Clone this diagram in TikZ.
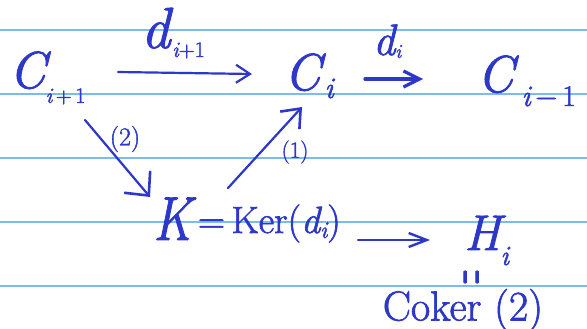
\documentclass[tikz,border=0pt]{standalone}
\usepackage{fontspec}
\usepackage{graphicx}
\usetikzlibrary{arrows.meta}
\newfontfamily\hand[FakeBold=1.6]{Latin Modern Roman}
\definecolor{ink}{RGB}{45,55,200}
\definecolor{ruleblue}{RGB}{125,185,245}
\newcommand\sz[1]{\fontsize{#1}{#1}\selectfont}
\newcommand\subtxt[3]{\raisebox{#1}{\sz{#2}#3}}
\begin{document}
\begin{tikzpicture}[x=1pt,y=-1pt,
  lbl/.style={text=ink, inner sep=0pt, anchor=base west, font=\hand\itshape},
  tag/.style={text=ink, inner sep=0pt, font=\hand},
  arr/.style={draw=ink, line width=2.2pt, line cap=round},
  ruling/.style={draw=ruleblue, line width=1.8pt}]
\useasboundingbox (0,0) rectangle (587,329);
\fill[white] (0,0) rectangle (587,329);
\foreach \yy in {30,94,158,222,286} \draw[ruling] (0,\yy) -- (587,\yy);

\node[lbl] (cA) at (9,88) {\sz{52}C\subtxt{-15pt}{22}{i\,\upshape+\,1}};
\node[lbl] (cB) at (284,90) {\sz{52}C\hspace{4pt}\subtxt{-8pt}{30}{i}};
\node[lbl] (cC) at (477,92) {\sz{52}C\hspace{8pt}\subtxt{-14pt}{30}{i\,\upshape−\,1}};
\node[lbl] (dA) at (141,48) {\sz{58}d\hspace{2pt}\subtxt{-9pt}{22}{i\upshape+1}};
\node[lbl] (dB) at (373,55) {\sz{44}d\subtxt{-3pt}{20}{i}};
\node[lbl] (K) at (153,240) {\sz{62}\scalebox{0.82}[1]{K}\raisebox{7pt}{\sz{38}\upshape\,=\,Ker(\itshape d\subtxt{-5pt}{24}{i}\upshape)}};
\node[lbl] (H) at (464,250) {\sz{50}H\subtxt{-15pt}{28}{i}};
\node[tag, rotate=90] (eq) at (476,277) {\scalebox{0.5}[1.7]{\sz{40}=}};
\node[tag] (cok) at (463,310) {\sz{42}Coker (2)};
\node[tag] (l2) at (125,139) {\sz{26}(2)};
\node[tag] (l1) at (295,152) {\sz{23}(1)};

\draw[arr, -{Straight Barb[length=14pt,width=18pt,line width=2.2pt]}]
  ([shift={(109pt,16pt)}]cA.base west) -- ([shift={(-32pt,16pt)}]cB.base west);
\draw[arr, line width=3.2pt, -{Straight Barb[length=16pt,width=16pt,line width=3.2pt]}]
  ([shift={(81pt,11pt)}]cB.base west) -- ([shift={(-54pt,13pt)}]cC.base west);
\draw[arr, -{Straight Barb[length=18pt,width=34pt,line width=2.6pt]}]
  ([shift={(76pt,-32pt)}]cA.base west) -- ([shift={(-3pt,43pt)}]K.base west);
\draw[arr, -{Straight Barb[length=16pt,width=26pt,line width=2.6pt]}]
  ([shift={(75pt,52pt)}]K.base west) -- ([shift={(18pt,-17pt)}]cB.base west);
\draw[arr, -{Straight Barb[length=18pt,width=14pt,line width=2.4pt]}]
  ([shift={(205pt,0pt)}]K.base west) -- ([shift={(-34pt,10pt)}]H.base west);
\end{tikzpicture}
\end{document}
